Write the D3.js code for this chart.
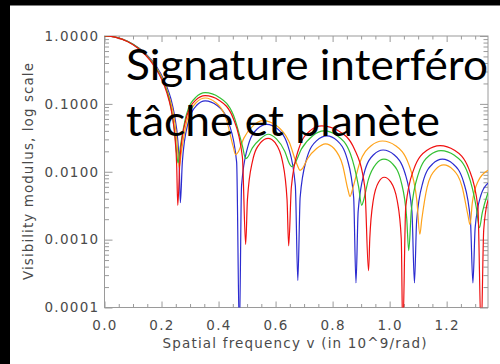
<!DOCTYPE html>
<html><head><meta charset="utf-8">
<script src="https://cdn.jsdelivr.net/npm/d3@7"></script>
<style>body{margin:0;background:#fff;overflow:hidden}</style>
</head><body>
<svg id="c" width="500" height="364"></svg>
<script>
const xTickValues = [0, 0.2, 0.4, 0.6, 0.8, 1.0, 1.2];
const xTickLabels = ["0.0", "0.2", "0.4", "0.6", "0.8", "1.0", "1.2"];
const xMinorValues = [0.05,0.1,0.15,0.25,0.3,0.35,0.45,0.5,0.55,0.65,0.7,0.75,0.85,0.9,0.95,1.05,1.1,1.15,1.25,1.3];
const yTickValues = [1, 0.1, 0.01, 0.001, 0.0001];
const yTickLabels = ["1.0000", "0.1000", "0.0100", "0.0010", "0.0001"];
const titleLines = ["Signature interféro", "tâche et planète"];
const xTitle = "Spatial frequency v (in 10^9/rad)";
const yTitle = "Visibility modulus, log scale";

const redF = [0,0.04,0.08,0.12,0.16,0.19,0.21,0.225,0.238,0.248,0.253,0.257,
0.265,0.286,0.319,0.353,0.4027,0.4524,0.4836,0.495,
0.5013,0.5187,0.5464,0.574,0.5992,0.6244,0.6402,0.646,
0.6553,0.6808,0.7214,0.762,0.8194,0.8768,0.9129,0.926,
0.9304,0.9425,0.9618,0.981,1.0038,1.0265,1.0408,1.046,
1.0565,1.0853,1.1312,1.177,1.2274,1.2778,1.3095,1.321,
1.33,1.345];
const redV = [1,0.956,0.832,0.65,0.438,0.281,0.185,0.118,0.066,0.029,0.013,0.0032,
0.0165,0.060,0.1126,0.132,0.1126,0.060,0.0165,0.00085,
0.00389,0.01412,0.02653,0.0311,0.02653,0.01412,0.00389,0.00081,
0.00591,0.02147,0.04035,0.0473,0.04035,0.02147,0.00591,0.00035,
0.00104,0.00377,0.00708,0.0083,0.00708,0.00377,0.00104,0.00004,
0.00304,0.01103,0.02073,0.0243,0.02073,0.01103,0.00304,0.00004,
0.0014,0.0038];

const blueF = [0,0.041,0.083,0.124,0.166,0.197,0.217,0.233,0.246,0.257,0.262,0.266,
0.273,0.2921,0.3226,0.353,0.395,0.437,0.4634,0.473,
0.4807,0.5018,0.5354,0.569,0.6071,0.6453,0.6693,0.678,
0.6862,0.7086,0.7443,0.78,0.8157,0.8514,0.8738,0.882,
0.8896,0.9105,0.9438,0.977,1.0155,1.054,1.0782,1.087,
1.0948,1.1164,1.1507,1.185,1.2224,1.2599,1.2834,1.292,
1.3,1.32,1.345];
const blueV = [1,0.956,0.832,0.65,0.438,0.281,0.185,0.118,0.066,0.029,0.013,0.0035,
0.01388,0.0504,0.0947,0.111,0.0947,0.0504,0.01388,0.00004,
0.00625,0.0227,0.04265,0.050,0.04265,0.0227,0.00625,0.00025,
0.00421,0.0153,0.02875,0.0337,0.02875,0.0153,0.00421,0.00023,
0.00261,0.00949,0.01783,0.0209,0.01783,0.00949,0.00261,0.00023,
0.00191,0.00695,0.01305,0.0153,0.01305,0.00695,0.00191,0.00023,
0.0015,0.0045,0.0068];

const orangeF = [0,0.041,0.082,0.122,0.163,0.194,0.214,0.229,0.243,0.253,0.258,0.262,
0.2693,0.2893,0.3212,0.353,0.3904,0.4279,0.4514,0.46,
0.4677,0.4888,0.5224,0.556,0.6015,0.647,0.6756,0.686,
0.6931,0.7127,0.7439,0.775,0.8051,0.8352,0.8541,0.861,
0.8701,0.8952,0.9351,0.975,1.0208,1.0667,1.0955,1.106,
1.1127,1.1312,1.1606,1.19,1.2222,1.2544,1.2746,1.282,
1.29,1.31,1.345];
const orangeV = [1,0.956,0.832,0.65,0.438,0.281,0.185,0.118,0.067,0.0312,0.0174,0.0115,
0.0191,0.0566,0.1041,0.122,0.1041,0.0582,0.0234,0.0178,
0.0192,0.0313,0.0483,0.0566,0.0483,0.0278,0.0127,0.0105,
0.011,0.0157,0.022,0.0258,0.022,0.01247,0.00538,0.0043,
0.00558,0.01359,0.02423,0.0284,0.02423,0.01295,0.00375,0.0012,
0.00198,0.00584,0.01075,0.0126,0.01075,0.00596,0.00229,0.00166,
0.0035,0.0072,0.0105];

const greenF = [0,0.04,0.08,0.12,0.16,0.19,0.21,0.225,0.238,0.248,0.253,0.258,
0.2656,0.2865,0.3198,0.353,0.4027,0.4524,0.4836,0.495,
0.5013,0.5187,0.5464,0.574,0.603,0.6321,0.6504,0.657,
0.666,0.6909,0.7305,0.77,0.8162,0.8624,0.8914,0.902,
0.9082,0.9254,0.9527,0.98,1.0104,1.0409,1.06,1.067,
1.076,1.1009,1.1405,1.18,1.2272,1.2745,1.304,1.315,
1.325,1.345];
const greenV = [1,0.958,0.838,0.66,0.447,0.29,0.195,0.127,0.0674,0.032,0.0187,0.0135,
0.0227,0.0677,0.1245,0.146,0.1245,0.0681,0.024,0.0156,
0.0162,0.0225,0.03045,0.0357,0.03045,0.0201,0.0127,0.0119,
0.0129,0.0217,0.034,0.0399,0.034,0.0184,0.00593,0.0032,
0.00373,0.00765,0.01305,0.0153,0.01305,0.00698,0.00203,0.00069,
0.00265,0.0093,0.01749,0.0205,0.01749,0.00942,0.00297,0.0015,
0.0025,0.0049];

const seriesNames = ["blue", "orange", "green", "red"];
const seriesColors = ["#2b2bd0", "#ffa31a", "#33c033", "#f01010"];
const seriesF = [blueF, orangeF, greenF, redF];
const seriesV = [blueV, orangeV, greenV, redV];

const W = 500, H = 364;
const L = 104.5, R = 488, T = 36, B = 307.5;
const svg = d3.select("#c");

const x = d3.scaleLinear().domain([0, 1.345]).range([L, R]);
const y = d3.scaleLog().domain([1e-4, 1]).range([B, T]);

svg.append("rect").attr("width", W).attr("height", H).attr("fill", "#fff");

svg.append("defs").append("clipPath").attr("id", "clip")
  .append("rect").attr("x", L).attr("y", T).attr("width", R - L).attr("height", B - T);

const axisColor = "#9a9a9a";
const labelColor = "#4a4a4a";
const fontFam = "'DejaVu Sans', sans-serif";

function styleAxis(g) {
  g.select(".domain").remove();
  g.selectAll(".tick line").attr("stroke", axisColor).attr("stroke-width", 1);
  g.selectAll("text").attr("fill", labelColor).attr("font-family", fontFam)
    .attr("font-size", 13.5).style("letter-spacing", "1.3px");
}

const yMinor = [];
for (let e = -4; e < 0; e++) for (let m = 2; m <= 9; m++) yMinor.push(m * Math.pow(10, e));

svg.append("g").attr("transform", `translate(0,${B})`)
  .call(d3.axisBottom(x).tickValues(xTickValues).tickFormat((d, i) => xTickLabels[i]).tickSize(-6).tickPadding(13))
  .call(styleAxis);
svg.append("g").attr("transform", `translate(0,${B})`)
  .call(d3.axisBottom(x).tickValues(xMinorValues).tickFormat("").tickSize(-3.5)).call(styleAxis);
svg.append("g").attr("transform", `translate(0,${T})`)
  .call(d3.axisTop(x).tickValues(xTickValues).tickFormat("").tickSize(-6)).call(styleAxis);
svg.append("g").attr("transform", `translate(0,${T})`)
  .call(d3.axisTop(x).tickValues(xMinorValues).tickFormat("").tickSize(-3.5)).call(styleAxis);
svg.append("g").attr("transform", `translate(${L},0)`)
  .call(d3.axisLeft(y).tickValues(yTickValues).tickFormat((d, i) => yTickLabels[i]).tickSize(-8).tickPadding(5))
  .call(styleAxis);
svg.append("g").attr("transform", `translate(${L},0)`)
  .call(d3.axisLeft(y).tickValues(yMinor).tickFormat("").tickSize(-4.5)).call(styleAxis);
svg.append("g").attr("transform", `translate(${R},0)`)
  .call(d3.axisRight(y).tickValues(yTickValues).tickFormat("").tickSize(-8)).call(styleAxis);
svg.append("g").attr("transform", `translate(${R},0)`)
  .call(d3.axisRight(y).tickValues(yMinor).tickFormat("").tickSize(-4.5)).call(styleAxis);

svg.append("rect").attr("x", L).attr("y", T).attr("width", R - L).attr("height", B - T)
  .attr("fill", "none").attr("stroke", axisColor).attr("stroke-width", 1);

const line = d3.line().x(d => x(d[0])).y(d => y(d[1])).curve(d3.curveMonotoneX);
const plot = svg.append("g").attr("clip-path", "url(#clip)");
seriesNames.forEach((n, i) => {
  const pts = seriesF[i].map((f, j) => [f, seriesV[i][j]]);
  plot.append("path").datum(pts).attr("d", line)
    .attr("fill", "none").attr("stroke", seriesColors[i]).attr("stroke-width", 1.2);
});

svg.append("text").attr("x", 294.5).attr("y", 348).attr("text-anchor", "middle")
  .attr("font-family", fontFam).attr("font-size", 13.5).attr("fill", labelColor)
  .attr("textLength", 264).attr("lengthAdjust", "spacing").text(xTitle);
svg.append("text").attr("transform", "translate(33,171.5) rotate(-90)").attr("text-anchor", "middle")
  .attr("font-family", fontFam).attr("font-size", 13.5).attr("fill", labelColor)
  .attr("textLength", 217).attr("lengthAdjust", "spacing").text(yTitle);

const tl = [[80, 362], [136, 314]];
titleLines.forEach((t, i) => {
  svg.append("text").attr("x", 126).attr("y", tl[i][0])
    .attr("font-family", "Lato, 'Open Sans', sans-serif").attr("font-size", 43).attr("fill", "#000")
    .attr("textLength", tl[i][1]).attr("lengthAdjust", "spacingAndGlyphs").text(t);
});

svg.append("rect").attr("x", 0).attr("y", 0).attr("width", W).attr("height", 5.5).attr("fill", "#000");
svg.append("rect").attr("x", 0).attr("y", 0).attr("width", 10).attr("height", H).attr("fill", "#000");
</script>
</body></html>
